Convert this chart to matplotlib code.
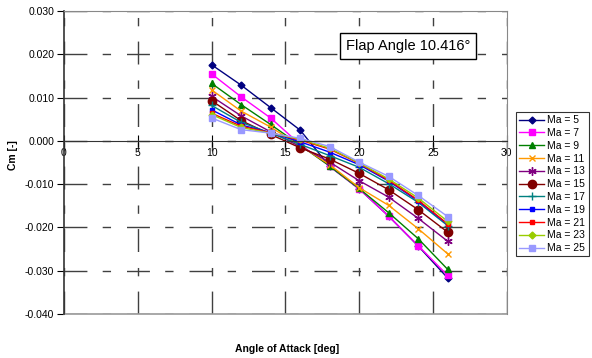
import numpy as np
import matplotlib
matplotlib.use("Agg")
import matplotlib.pyplot as plt

plt.rcParams['font.family'] = ['Liberation Sans', 'DejaVu Sans']

# angle of attack [deg] and Cm per Mach number
alpha = [10, 12, 14, 16, 18, 20, 22, 24, 26]
cm_ma5  = [0.0176, 0.0129, 0.0077, 0.0025, -0.0059, -0.0111, -0.0174, -0.0243, -0.0317]
cm_ma7  = [0.0155, 0.0102, 0.0053, -0.0008, -0.0058, -0.0111, -0.0174, -0.0242, -0.0311]
cm_ma9  = [0.0133, 0.0084, 0.0038, -0.0010, -0.0058, -0.0110, -0.0166, -0.0226, -0.0297]
cm_ma11 = [0.0118, 0.0069, 0.0032, -0.0011, -0.0055, -0.0108, -0.0149, -0.0203, -0.0261]
cm_ma13 = [0.0103, 0.0058, 0.0021, -0.0013, -0.0049, -0.0092, -0.0130, -0.0179, -0.0232]
cm_ma15 = [0.0093, 0.0047, 0.0015, -0.0016, -0.0042, -0.0075, -0.0113, -0.0159, -0.0211]
cm_ma17 = [0.0082, 0.0043, 0.0018, -0.0008, -0.0034, -0.0061, -0.0099, -0.0142, -0.0196]
cm_ma19 = [0.0072, 0.0037, 0.0019, -0.0002, -0.0026, -0.0055, -0.0093, -0.0139, -0.0193]
cm_ma21 = [0.0064, 0.0034, 0.0019, 0.0002, -0.0019, -0.0052, -0.0091, -0.0137, -0.0192]
cm_ma23 = [0.0061, 0.0031, 0.0018, 0.0004, -0.0017, -0.0051, -0.0088, -0.0132, -0.0186]
cm_ma25 = [0.0053, 0.0026, 0.0018, 0.0006, -0.0013, -0.0049, -0.0082, -0.0126, -0.0175]

series = [
    ("Ma = 5",  cm_ma5,  "#000080", "D", 3.5),
    ("Ma = 7",  cm_ma7,  "#FF00FF", "s", 5),
    ("Ma = 9",  cm_ma9,  "#008000", "^", 5),
    ("Ma = 11", cm_ma11, "#FF9900", "x", 5),
    ("Ma = 13", cm_ma13, "#800080", (6, 2, 0), 6),
    ("Ma = 15", cm_ma15, "#800000", "o", 6),
    ("Ma = 17", cm_ma17, "#008080", "+", 6),
    ("Ma = 19", cm_ma19, "#0000FF", "s", 2.5),
    ("Ma = 21", cm_ma21, "#FF0000", "s", 2.5),
    ("Ma = 23", cm_ma23, "#99CC00", "D", 3.5),
    ("Ma = 25", cm_ma25, "#9999FF", "s", 5),
]

fig = plt.figure(figsize=(5.92, 3.58), dpi=100)
ax = fig.add_axes([0.108, 0.123, 0.748, 0.846])

for label, cm, color, mk, ms in series:
    ax.plot(alpha, cm, color=color, marker=mk, ms=ms, lw=1.0, label=label,
            mec=color, mfc=color, mew=1.0)

ax.set_xlim(0, 30)
ax.set_ylim(-0.040, 0.030)
ax.set_xticks(np.arange(0, 31, 5))
yt = np.arange(-0.040, 0.0301, 0.010)
ax.set_yticks(yt)
ax.set_yticklabels([f"{v:.3f}" for v in yt])

# long-short dashed grid
ax.grid(True, color="#404040", ls=(0, (16.5, 11, 6, 11.5)), lw=1.0)
ax.set_axisbelow(True)

# x axis drawn through Cm = 0
ax.spines['bottom'].set_position(('data', 0))
ax.spines['bottom'].set_color('#333333')
ax.spines['left'].set_color('#333333')
ax.spines['left'].set_linewidth(1.2)
for s in ('top', 'right'):
    ax.spines[s].set_color('#888888')
ax.axhline(-0.040, color='#999999', lw=1.2, clip_on=False)
ax.tick_params(axis='x', direction='inout', length=8, labelsize=7.5, pad=1)
ax.tick_params(axis='y', direction='out', length=5, labelsize=7.5, pad=2)

ax.set_ylabel("Cm [-]", fontsize=7.5, fontweight='bold')
ax.yaxis.set_label_coords(-0.104, 0.525)
fig.text(0.485, 0.025, "Angle of Attack [deg]", fontsize=7.5, fontweight='bold',
         ha='center', va='center')

ax.text(0.777, 0.885, "Flap Angle 10.416°", transform=ax.transAxes, fontsize=10.5,
        va='center', ha='center',
        bbox=dict(boxstyle='square,pad=0.4', fc='white', ec='black', lw=1.0))

leg = fig.legend(loc='upper left', bbox_to_anchor=(0.872, 0.687), fontsize=7.5,
                 frameon=True, fancybox=False, edgecolor='black', handlelength=2.4,
                 borderpad=0.3, labelspacing=0.27, handletextpad=0.3, borderaxespad=0)
leg.get_frame().set_linewidth(0.8)

fig.savefig("out.png", dpi=100)
